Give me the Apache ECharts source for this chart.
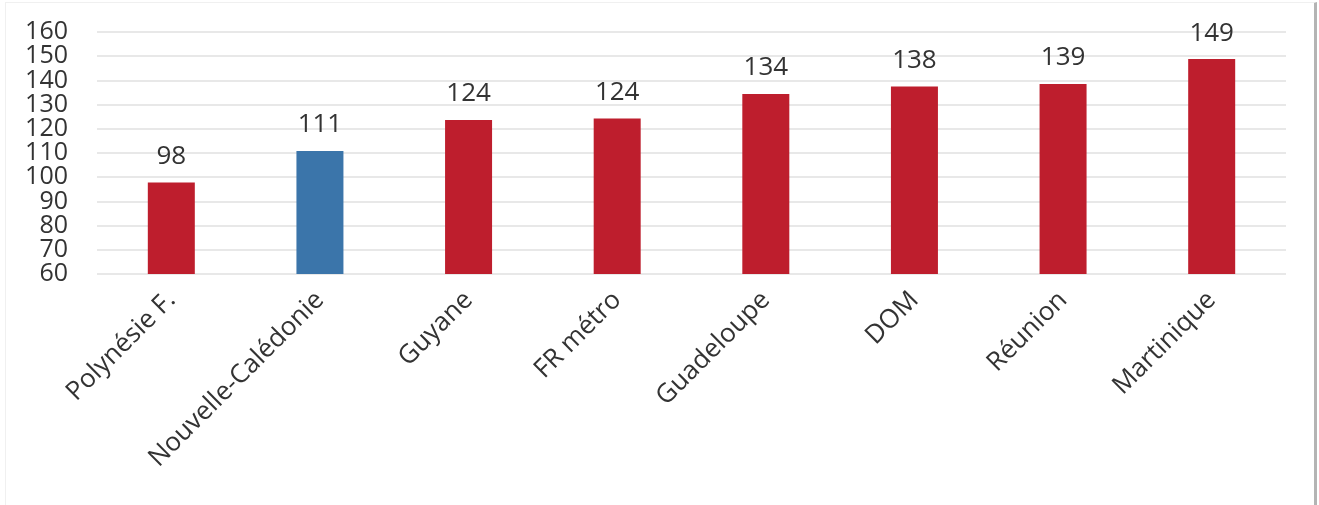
<!DOCTYPE html>
<html><head><meta charset="utf-8">
<script src="https://cdn.jsdelivr.net/npm/echarts@6/dist/echarts.min.js"></script>
<style>
html,body{margin:0;padding:0;background:#fff;}
#frame{position:absolute;left:5px;top:2px;width:1308px;height:510px;border-left:1px solid #f0f0f0;border-top:1px solid #f0f0f0;border-right:3px solid #b4b4b4;box-sizing:content-box;}
#c{position:absolute;left:0;top:0;width:1319px;height:505px;}
</style></head>
<body>
<div id="frame"></div>
<div id="c"></div>
<script>
const categories = ["Polynésie F.", "Nouvelle-Calédonie", "Guyane", "FR métro", "Guadeloupe", "DOM", "Réunion", "Martinique"];
const values = [97.8, 110.8, 123.6, 124.3, 134.4, 137.5, 138.5, 148.8];
const labels = ["98", "111", "124", "124", "134", "138", "139", "149"];
const barColors = ["#be1e2d", "#3b75aa", "#be1e2d", "#be1e2d", "#be1e2d", "#be1e2d", "#be1e2d", "#be1e2d"];
const yMin = 60, yMax = 160, yStep = 10;

const yLabelStyle = {fontSize: 25, color: '#333', margin: 29, fontFamily: 'Open Sans',
  showMinLabel: true, showMaxLabel: true, hideOverlap: false};

const chart = echarts.init(document.getElementById('c'), null, {renderer: 'canvas'});
chart.setOption({
  animation: false,
  textStyle: {fontFamily: 'Open Sans'},
  grid: {left: 97, right: 33, top: 32, bottom: 231, containLabel: false},
  xAxis: {
    type: 'category',
    data: categories,
    axisLine: {show: false},
    axisTick: {show: false},
    axisLabel: {rotate: 45, fontSize: 26, color: '#333', margin: 22, fontFamily: 'Open Sans', interval: 0}
  },
  yAxis: [{
    type: 'value', position: 'left',
    min: yMin, max: yMax, interval: yStep,
    axisLine: {show: false},
    axisTick: {show: false},
    splitLine: {lineStyle: {color: '#e0e0e0', width: 1.5}},
    axisLabel: Object.assign({}, yLabelStyle, {formatter: v => ((v - yMin) / yStep) % 2 === 0 ? String(v) : ''})
  }, {
    type: 'value', position: 'left',
    min: yMin, max: yMax, interval: yStep,
    axisLine: {show: false},
    axisTick: {show: false},
    splitLine: {show: false},
    axisLabel: Object.assign({}, yLabelStyle, {formatter: v => ((v - yMin) / yStep) % 2 === 1 ? String(v) : ''})
  }],
  series: [{
    type: 'bar',
    yAxisIndex: 0,
    data: values.map((v, i) => ({value: v, itemStyle: {color: barColors[i]}})),
    barWidth: 47,
    label: {
      show: true, position: 'top', distance: 13, fontSize: 26, color: '#333', fontFamily: 'Open Sans',
      formatter: p => labels[p.dataIndex]
    }
  }]
});
</script>
</body></html>
